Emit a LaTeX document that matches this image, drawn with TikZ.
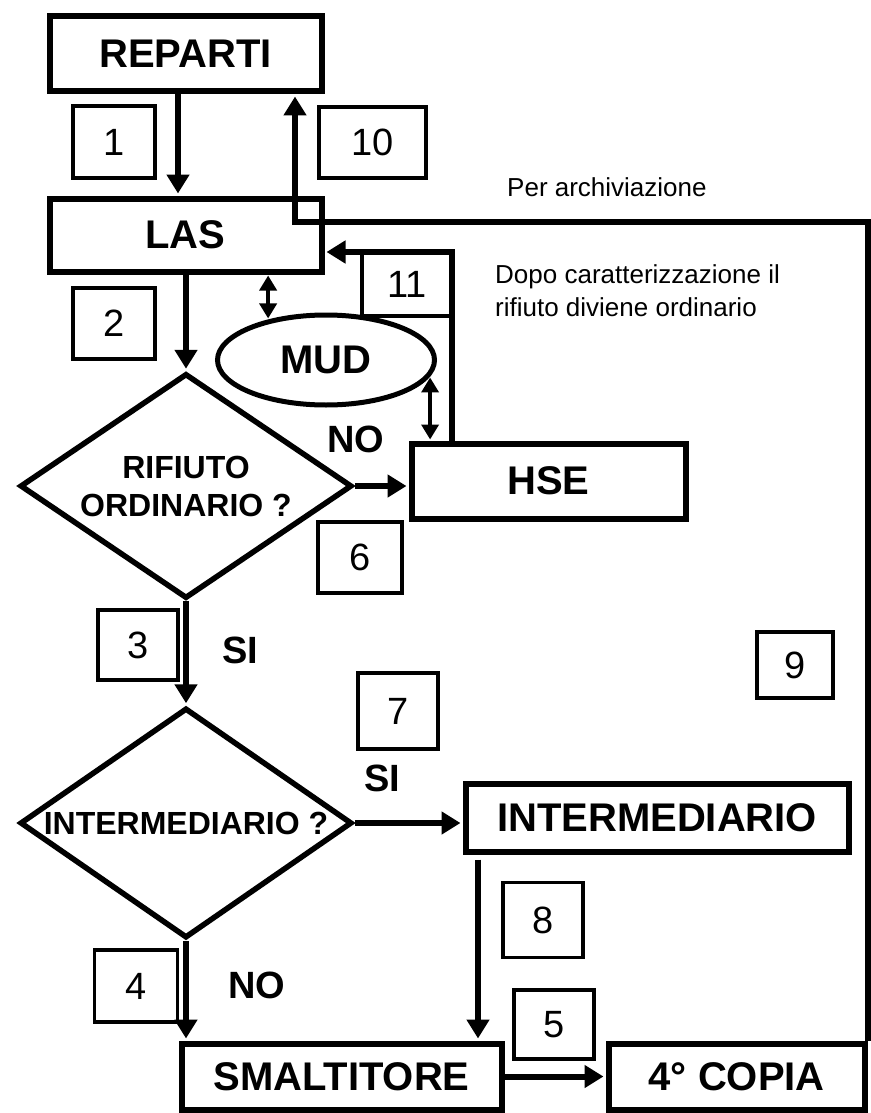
\documentclass[tikz,border=0pt]{standalone}
\usepackage{fontspec}
\setmainfont{Liberation Sans}
\usetikzlibrary{shapes.geometric,arrows.meta}

\begin{document}
\begin{tikzpicture}[
    x=1pt, y=-1pt,
    box/.style={draw, rectangle, line width=6pt, inner sep=0pt, font=\fontsize{40}{44}\selectfont\bfseries},
    num/.style={draw, rectangle, line width=3.5pt, inner sep=0pt, font=\fontsize{38}{42}\selectfont},
    choice/.style={draw, diamond, line width=5.5pt, inner sep=0pt, font=\fontsize{32}{38}\selectfont\bfseries, align=center},
    answer/.style={font=\fontsize{38}{42}\selectfont\bfseries},
    note/.style={font=\fontsize{26}{33}\selectfont, align=left, inner sep=0pt},
    flow/.style={draw, line width=6pt, shorten >=2pt, -{Triangle[length=19pt,width=22pt]}},
    twoway/.style={draw, line width=4.5pt, shorten >=1pt, shorten <=1pt, {Triangle[length=15pt,width=17pt]}-{Triangle[length=15pt,width=17pt]}}
  ]
  \useasboundingbox (0,0) rectangle (870,1113);

  % boxes
  \node[box, minimum width=272pt, minimum height=75pt] (reparti) at (185.5,54) {REPARTI};
  \node[box, minimum width=272pt, minimum height=73pt] (las) at (185.5,235) {LAS};
  \node[box, ellipse, line width=5pt, minimum width=217pt, minimum height=90pt] (mud) at (326,360) {MUD};
  \node[box, minimum width=274pt, minimum height=75pt] (hse) at (548.5,481) {HSE};
  \node[box, minimum width=383pt, minimum height=68pt] (imed) at (657,817.5) {INTERMEDIARIO};
  \node[box, minimum width=320pt, minimum height=66pt] (smalt) at (341.5,1076.5) {SMALTITORE};
  \node[box, minimum width=256.5pt, minimum height=66pt] (copia) at (736.75,1076.5) {4° COPIA};

  % questions
  \node[choice, aspect=1.475, minimum width=332pt, minimum height=225pt] (rif) at (186,486) {RIFIUTO\\ORDINARIO ?};
  \node[choice, aspect=1.44, minimum width=332pt, minimum height=230pt] (dint) at (rif.south |- 0,823) {\makebox[0pt]{INTERMEDIARIO ?}};

  % step numbers
  \node[num, minimum width=82pt, minimum height=72pt] (n1) at (114,142) {1};
  \node[num, minimum width=82pt, minimum height=71pt] (n2) at (114,323.5) {2};
  \node[num, minimum width=80pt, minimum height=70pt] (n3) at (138,645) {3};
  \node[num, minimum width=83pt, minimum height=72pt] (n4) at (136,986) {4};
  \node[num, minimum width=80pt, minimum height=69pt] (n5) at (554,1024.5) {5};
  \node[num, minimum width=84pt, minimum height=71pt] (n6) at (360,557.5) {6};
  \node[num, minimum width=80pt, minimum height=76pt] (n7) at (398,711) {7};
  \node[num, minimum width=80pt, minimum height=75pt] (n8) at (543,920) {8};
  \node[num, minimum width=76pt, minimum height=66pt] (n9) at (795,665) {9};
  \node[num, minimum width=107pt, minimum height=71pt] (n10) at (372.5,142.5) {10};
  \node[num, minimum width=90pt, minimum height=64pt] (n11) at (407,284) {11};

  % answers and notes
  \node[answer] (no1) at (356,439) {NO};
  \node[answer] (si1) at (240,650) {SI};
  \node[answer] (si2) at (382,778) {SI};
  \node[answer] (no2) at (257,985) {NO};
  \node[note, anchor=west] (arch) at (507,187) {Per archiviazione};
  \node[note, anchor=west] (dopo) at (495,291) {Dopo caratterizzazione il\\rifiuto diviene ordinario};

  \coordinate (c10) at (295,222);
  \coordinate (c11) at (452,252);

  % 1
  \draw[flow] ([xshift=-7.5pt]reparti.south) -- ([xshift=-7.5pt]las.north);
  % 2
  \draw[flow] (las.south -| rif.north) -- (rif.north);
  % 3
  \draw[flow] (rif.south) -- (dint.north);
  % 4
  \draw[flow] (dint.south) -- (dint.south |- smalt.north);
  % 5
  \draw[flow] (smalt.east) -- (copia.west);
  % 6
  \draw[flow] (rif.east) -- (rif.east -| hse.west);
  % 7
  \draw[flow] (dint.east) -- (dint.east -| imed.west);
  % 8
  \draw[flow] ([xshift=-179pt,yshift=-5pt]imed.south) -- ([xshift=-179pt]imed.south |- smalt.north);
  % 9 and 10
  \draw[flow] (copia.north east) |- (c10) -- (c10 |- reparti.south);
  % 11
  \draw[flow] (c11 |- hse.north) -- (c11) -- (c11 -| las.east);
  % MUD
  \draw[twoway] (mud.145) -- (mud.145 |- las.south);
  \draw[twoway] (mud.-9) -- (mud.-9 |- hse.north);
\end{tikzpicture}
\end{document}
